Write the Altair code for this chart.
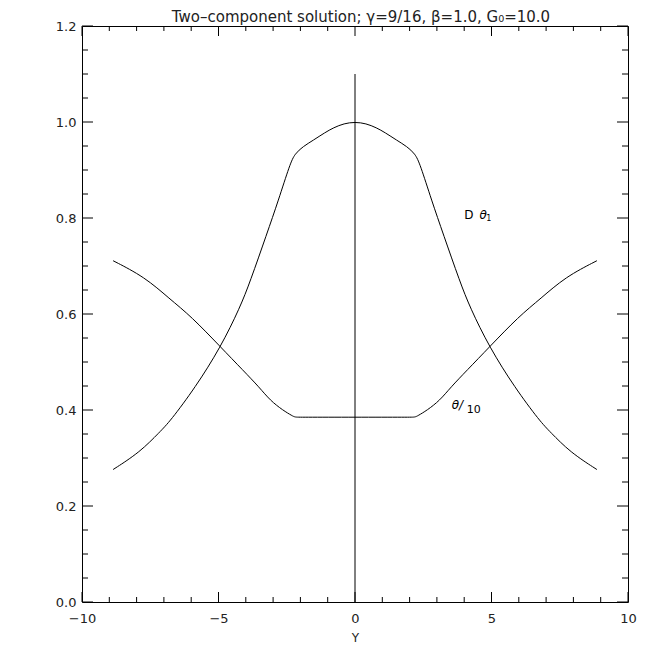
import altair as alt
import pandas as pd

# ---- data ----
c1_x = [-8.86, -7.88, -7.14, -6.78, -5.85, -4.92, -4.21, -3.85, -3.23, -2.81, -2.38, -2.2,
        -1.9, -1.53, -1.1, -0.79, -0.4, 0.0, 0.4, 0.79, 1.1, 1.53, 1.9, 2.2, 2.38, 2.81, 3.23,
        3.85, 4.21, 4.92, 5.85, 6.78, 7.14, 7.88, 8.86]
c1_y = [0.276, 0.312, 0.355, 0.376, 0.447, 0.531, 0.614, 0.666, 0.767, 0.836, 0.913, 0.934,
        0.949, 0.962, 0.978, 0.988, 0.997, 1.0, 0.997, 0.988, 0.978, 0.962, 0.949, 0.934, 0.913,
        0.836, 0.767, 0.666, 0.614, 0.531, 0.447, 0.376, 0.355, 0.312, 0.276]

c2_x = [-8.86, -7.7, -6.8, -6.0, -4.92, -4.09, -3.5, -3.11, -2.63, -2.3, -2.2, -2.0,
        0.0, 2.0, 2.2, 2.3, 2.63, 3.11, 3.5, 4.09, 4.92, 6.0, 6.8, 7.7, 8.86]
c2_y = [0.711, 0.677, 0.632, 0.595, 0.531, 0.482, 0.447, 0.42, 0.399, 0.388, 0.385, 0.385,
        0.385, 0.385, 0.385, 0.388, 0.399, 0.42, 0.447, 0.482, 0.531, 0.595, 0.632, 0.677, 0.711]

vline_x = [0.0]
vline_y = [0.0]
vline_y2 = [1.1]

x_major = [-10, -5, 0, 5, 10]
x_minor = [-9, -8, -7, -6, -4, -3, -2, -1, 1, 2, 3, 4, 6, 7, 8, 9]
y_major = [0.0, 0.2, 0.4, 0.6, 0.8, 1.0, 1.2]
y_minor = [0.05, 0.1, 0.15, 0.25, 0.3, 0.35, 0.45, 0.5, 0.55, 0.65, 0.7, 0.75,
           0.85, 0.9, 0.95, 1.05, 1.1, 1.15]

title_text = "Two\u2013component solution; \u03b3=9/16, \u03b2=1.0, G\u2080=10.0"
x_title = "Y"

# annotation anchors (data coordinates, left edge of text)
ann_D = {"t": ["D"], "x": [4.0], "y": [0.807]}
ann_theta1 = {"t": ["\u03b8"], "x": [4.56], "y": [0.807]}
ann_sub1 = {"t": ["1"], "x": [4.81], "y": [0.797]}
ann_theta = {"t": ["\u03b8/"], "x": [3.54], "y": [0.41]}
ann_ten = {"t": ["10"], "x": [4.09], "y": [0.401]}

W, H = 546, 576
FONT = "DejaVu Sans"

xs = alt.Scale(domain=[-10, 10], nice=False, zero=False)
ys = alt.Scale(domain=[0, 1.2], nice=False, zero=False)

AX = alt.Axis(values=x_major, ticks=False, domain=False, grid=False,
              labelFont=FONT, labelFontSize=13, labelColor="#222",
              labelPadding=10, labelFlush=False, format="d",
              title=x_title, titleFont=FONT, titleFontSize=12,
              titleFontWeight="normal", titleColor="#222", titlePadding=7)
AY = alt.Axis(values=y_major, ticks=False, domain=False, grid=False,
              labelFont=FONT, labelFontSize=13, labelColor="#222",
              labelPadding=6, labelFlush=False, format=".1f", title="")

curves = pd.concat([
    pd.DataFrame({"x": c1_x, "y": c1_y, "s": "D theta1"}),
    pd.DataFrame({"x": c2_x, "y": c2_y, "s": "theta/10"}),
])

base_line = alt.Chart(curves).mark_line(color="black", strokeWidth=1, interpolate="basis").encode(
    x=alt.X("x:Q", scale=xs, axis=AX),
    y=alt.Y("y:Q", scale=ys, axis=AY),
    detail="s:N",
)

vline = alt.Chart(pd.DataFrame({"x": vline_x, "y": vline_y, "y2": vline_y2})).mark_rule(
    color="black", strokeWidth=1).encode(
    x=alt.X("x:Q", scale=xs, axis=AX),
    y=alt.Y("y:Q", scale=ys, axis=AY),
    y2="y2:Q",
)

def yticks(vals, length, side):
    df = pd.DataFrame({"y": vals})
    if side == "left":
        xa, xb = 0, length
    else:
        xa, xb = W, W - length
    return alt.Chart(df).mark_rule(color="black", strokeWidth=1).encode(
        y=alt.Y("y:Q", scale=ys, axis=AY), x=alt.value(xa), x2=alt.value(xb))

def xticks(vals, length, side):
    df = pd.DataFrame({"x": vals})
    if side == "bottom":
        ya, yb = H, H - length
    else:
        ya, yb = 0, length
    return alt.Chart(df).mark_rule(color="black", strokeWidth=1).encode(
        x=alt.X("x:Q", scale=xs, axis=AX), y=alt.value(ya), y2=alt.value(yb))

tick_layers = [
    yticks(y_major, 11, "left"), yticks(y_minor, 6, "left"),
    yticks(y_major, 11, "right"), yticks(y_minor, 6, "right"),
    xticks(x_major, 10, "bottom"), xticks(x_minor, 5, "bottom"),
    xticks(x_major, 10, "top"), xticks(x_minor, 5, "top"),
]

def ann(d, size, style="normal"):
    return alt.Chart(pd.DataFrame(d)).mark_text(
        align="left", baseline="middle", font=FONT, fontSize=size, fontStyle=style,
        color="black").encode(
        x=alt.X("x:Q", scale=xs, axis=AX), y=alt.Y("y:Q", scale=ys, axis=AY), text="t:N")

anns = [
    ann(ann_D, 12),
    ann(ann_theta1, 12, "italic"),
    ann(ann_sub1, 8),
    ann(ann_theta, 12, "italic"),
    ann(ann_ten, 11),
]

title_mark = alt.Chart(pd.DataFrame({"t": [title_text]})).mark_text(
    align="center", baseline="alphabetic", font=FONT, fontSize=15, color="#222").encode(
    x=alt.value(W / 2 + 6), y=alt.value(-4), text="t:N")

chart = alt.layer(base_line, vline, *tick_layers, *anns, title_mark).properties(
    width=W, height=H,
    padding={"left": 74, "top": 18, "right": 18, "bottom": 44},
    autosize="none",
).configure_view(stroke="black", strokeWidth=1)

chart.save("out.html", embed_options={"renderer": "svg", "actions": False})
